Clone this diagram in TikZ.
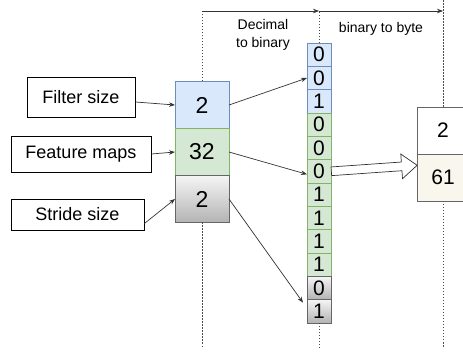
\documentclass[tikz,border=0pt]{standalone}
\usepackage{fontspec}
\setmainfont{Liberation Sans}
\usetikzlibrary{arrows.meta,positioning,shapes.arrows}

\definecolor{bluefill}{HTML}{DAE8FC}
\definecolor{bluedraw}{HTML}{6C8EBF}
\definecolor{greenfill}{HTML}{D5E8D4}
\definecolor{greendraw}{HTML}{82B366}
\definecolor{graytop}{HTML}{F5F5F5}
\definecolor{graybot}{HTML}{B3B3B3}
\definecolor{graydraw}{HTML}{666666}
\definecolor{creamfill}{HTML}{F9F7ED}

\begin{document}
\begin{tikzpicture}[x=1pt, y=-1pt,
    labelbox/.style={draw, fill=white, line width=0.8pt, font=\fontsize{18}{21}\selectfont},
    valbox/.style={draw, minimum width=54pt, minimum height=47pt, outer sep=0pt, line width=0.8pt, font=\fontsize{23}{25}\selectfont},
    bitcell/.style={draw, minimum width=24pt, minimum height=23.33pt, inner sep=0pt, outer sep=0pt, line width=0.7pt, font=\fontsize{21}{21}\selectfont},
    bluecell/.style={fill=bluefill, draw=bluedraw},
    greencell/.style={fill=greenfill, draw=greendraw},
    graycell/.style={top color=graytop, bottom color=graybot, draw=graydraw},
    bytebox/.style={draw=graydraw, minimum width=52pt, minimum height=47pt, outer sep=0pt, line width=0.8pt, font=\fontsize{21}{23}\selectfont},
    link/.style={draw=black!80, line width=0.7pt, -{Stealth[length=6pt,width=4.5pt]}},
    guide/.style={draw=black!70, line width=0.6pt, dash pattern=on 1.5pt off 1.5pt},
    caption/.style={font=\fontsize{14}{17.5}\selectfont, align=center}
]
    \path[use as bounding box, clip] (0,0) rectangle (463,352);

    % Input labels
    \node[labelbox, minimum width=108pt, minimum height=40pt] (filter) at (81,97) {Filter size};
    \node[labelbox, minimum width=140pt, minimum height=36pt] (maps) at (81,154) {Feature maps};
    \node[labelbox, minimum width=133pt, minimum height=31pt] (stride) at (77.5,214.5) {Stride size};

    % Decimal values
    \node[valbox, bluecell] (valfilter) at (202,105) {2};
    \node[valbox, greencell, below=0pt of valfilter] (valmaps) {32};
    \node[valbox, graycell, below=0pt of valmaps] (valstride) {2};

    % Bit column
    \foreach \v/\s [count=\i from 0] in {0/bluecell,0/bluecell,1/bluecell,
        0/greencell,0/greencell,0/greencell,1/greencell,1/greencell,1/greencell,1/greencell,
        0/graycell,1/graycell} {
        \node[bitcell, \s] (b\i) at (319, 54.67+23.33*\i) {\v};
    }

    % Bytes
    \node[bytebox, fill=white] (byte1) at (443,130.5) {2};
    \node[bytebox, fill=creamfill, below=0pt of byte1] (byte2) {61};

    % Stage guides
    \coordinate (s1) at (valfilter.north |- 0,11);
    \coordinate (s2) at (b0.north |- 0,11);
    \coordinate (s3) at (byte1.north |- 0,11);
    \draw[guide] (valfilter.north) -- (s1);
    \draw[guide] (valstride.south) -- (valstride.south |- 0,348);
    \draw[guide] (b0.north) -- (s2);
    \draw[guide] (b11.south) -- (b11.south |- 0,348);
    \draw[guide] (byte1.north) -- (byte1.north |- 0,0);
    \draw[guide] (byte2.south) -- (byte2.south |- 0,348);
    \draw[link] (s1) -- (s2);
    \draw[link] (s2) -- (s3);
    \node[caption] (dec) at (263,35) {Decimal\\to binary};
    \node[caption] (bin) at (381,29) {binary to byte};

    % Connectors
    \draw[link] ([yshift=-5pt]filter.east) -- (valfilter.west);
    \draw[link] (maps.east) -- (valmaps.west);
    \draw[link] ([yshift=-9pt]stride.east) -- (valstride.west);
    \draw[link] (valfilter.east) -- (b1.west);
    \draw[link] (valmaps.east) -- ([yshift=-3pt]b5.west);
    \draw[link] (valstride.east) -- ([xshift=-4pt,yshift=-3pt]b11.north west);

    % Hollow arrow
    \node[draw=black!80, fill=white, line width=0.7pt, single arrow, single arrow head extend=8pt,
        single arrow tip angle=77, minimum height=86pt, inner sep=4pt, rotate=4, anchor=tail] (conv) at (b5.east) {};
\end{tikzpicture}
\end{document}
